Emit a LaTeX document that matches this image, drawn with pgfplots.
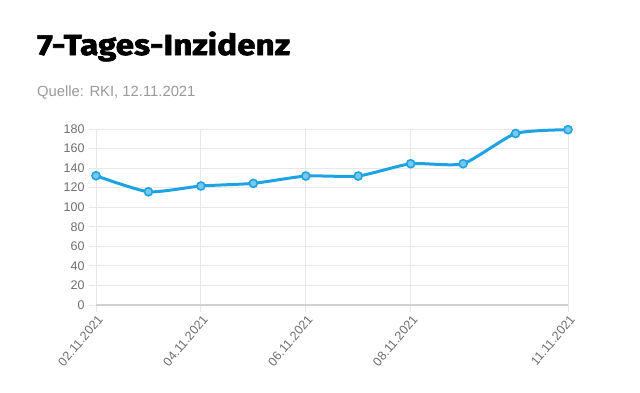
\documentclass[border=0pt]{standalone}
\usepackage{fontspec}
\setmainfont{Liberation Sans}
\newfontfamily\titlefont{Fira Sans}[FakeBold=2.2, FakeStretch=1.15]
\usepackage{pgfplots}
\pgfplotsset{compat=1.18}
\definecolor{linec}{HTML}{1EA3E2}
\definecolor{gridc}{HTML}{E8E8E8}
\definecolor{tickc}{HTML}{6E6E6E}
\definecolor{subc}{HTML}{9A9A9A}
\begin{document}
\begin{tikzpicture}[x=1bp,y=1bp]
\path[use as bounding box] (0,0) rectangle (640,392);
\node[anchor=base west, inner sep=0] at (37,337) {\titlefont\bfseries\fontsize{29bp}{32bp}\selectfont 7-Tages-Inzidenz};
\node[anchor=base west, inner sep=0, text=subc] at (37,296) {\fontsize{14.8bp}{16bp}\selectfont Quelle: RKI, 12.11.2021};
\begin{axis}[at={(96bp,87bp)}, anchor=south west, scale only axis,
  width=472bp, height=176bp,
  xmin=0, xmax=9, ymin=0, ymax=180,
  ytick={0,20,...,180},
  xtick={0,2,4,6,9},
  xticklabels={02.11.2021,04.11.2021,06.11.2021,08.11.2021,11.11.2021},
  axis line style={draw=none},
  grid=major,
  major grid style={draw=gridc, line width=0.8bp},
  tick style={draw=gridc, line width=0.8bp},
  tick align=outside,
  major tick length=7bp,
  xtick pos=bottom, ytick pos=left,
  tick label style={font=\fontsize{12.5bp}{14bp}\selectfont, text=tickc},
  /pgf/number format/assume math mode=true,
  yticklabel style={anchor=east, xshift=-1bp},
  xticklabel style={rotate=50, anchor=north east, inner sep=1bp, yshift=-1bp},
  clip=false,
]
\draw[draw=gridc!90!black, line width=2bp] (axis cs:0,0) -- (axis cs:9,0);
\addplot[color=linec, line width=3bp, smooth, tension=0.35,
  mark=*, mark size=4bp, mark options={fill=linec!60, draw=linec, line width=1.6bp}]
  coordinates {(0,132.2) (1,115.8) (2,121.7) (3,124.4) (4,131.9) (5,131.9) (6,144.5) (7,144.5) (8,175.4) (9,179.3)};
\end{axis}
\end{tikzpicture}
\end{document}
